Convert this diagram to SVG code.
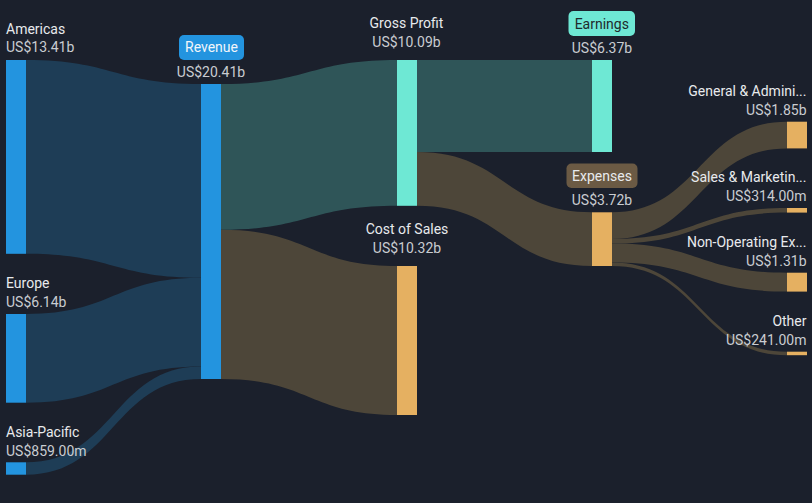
<svg xmlns="http://www.w3.org/2000/svg" width="812" height="503" viewBox="0 0 812 503">
<style>
.lbl{font-family:Roboto,"Liberation Sans",sans-serif;font-size:14px;fill:#e8eaed}
.val{font-family:Roboto,"Liberation Sans",sans-serif;font-size:14px;fill:#c9ccd1}
.mid{text-anchor:middle}
.end{text-anchor:end}
.fr{fill:#1e3d56}
.ft{fill:#2f5558}
.fb{fill:#4d4639}
.nb{fill:#2394df}
.nc{fill:#6ee8d4}
.no{fill:#e5b061}
</style>
<rect width="812" height="503" fill="#1b202c"/>
<g id="connectors">
<path class="fr" d="M26 60 C113.5 60 113.5 84 201 84 L201 277.8 C113.5 277.8 113.5 253.8 26 253.8 Z"/>
<path class="fr" d="M26 314 C113.5 314 113.5 277.8 201 277.8 L201 366.5 C113.5 366.5 113.5 402.7 26 402.7 Z"/>
<path class="fr" d="M26 462.3 C113.5 462.3 113.5 366.5 201 366.5 L201 379 C113.5 379 113.5 474.7 26 474.7 Z"/>
<path class="ft" d="M221 84 C309 84 309 60 397 60 L397 205.8 C309 205.8 309 229.8 221 229.8 Z"/>
<path class="fb" d="M221 229.8 C309 229.8 309 266 397 266 L397 415 C309 415 309 379 221 379 Z"/>
<path class="ft" d="M417 60 C504.5 60 504.5 60 592 60 L592 152 C504.5 152 504.5 152 417 152 Z"/>
<path class="fb" d="M417 152 C504.5 152 504.5 212.3 592 212.3 L592 266 C504.5 266 504.5 205.8 417 205.8 Z"/>
<path class="fb" d="M612 212.3 C699.5 212.3 699.5 121.7 787 121.7 L787 148.4 C699.5 148.4 699.5 239 612 239 Z"/>
<path class="fb" d="M612 239 C699.5 239 699.5 208 787 208 L787 212.6 C699.5 212.6 699.5 243.6 612 243.6 Z"/>
<path class="fb" d="M612 243.6 C699.5 243.6 699.5 272.7 787 272.7 L787 291.6 C699.5 291.6 699.5 262.5 612 262.5 Z"/>
<path class="fb" d="M612 262.5 C699.5 262.5 699.5 351.7 787 351.7 L787 355.2 C699.5 355.2 699.5 266 612 266 Z"/>
</g>
<g id="americas">
<rect class="nb" x="6" y="60" width="20" height="193.8"/>
<text class="lbl" x="6" y="34">Americas</text>
<text class="val" x="6" y="52">US$13.41b</text>
</g>
<g id="europe">
<rect class="nb" x="6" y="314" width="20" height="88.7"/>
<text class="lbl" x="6" y="288">Europe</text>
<text class="val" x="6" y="306.5">US$6.14b</text>
</g>
<g id="asia-pacific">
<rect class="nb" x="6" y="462.3" width="20" height="12.4"/>
<text class="lbl" x="6" y="437">Asia-Pacific</text>
<text class="val" x="6" y="455.5">US$859.00m</text>
</g>
<g id="revenue">
<rect class="nb" x="201" y="84" width="20" height="295"/>
<rect x="179" y="35" width="65" height="25" rx="5" fill="#2394df"/>
<text class="lbl mid" x="211.5" y="52" style="fill:#f2f6fa">Revenue</text>
<text class="val mid" x="211" y="76.5">US$20.41b</text>
</g>
<g id="gross-profit">
<rect class="nc" x="397" y="60" width="20" height="145.8"/>
<text class="lbl mid" x="406.5" y="28">Gross Profit</text>
<text class="val mid" x="406.5" y="47">US$10.09b</text>
</g>
<g id="cost-of-sales">
<rect class="no" x="397" y="266" width="20" height="149"/>
<text class="lbl mid" x="407" y="233.5">Cost of Sales</text>
<text class="val mid" x="407" y="252.5">US$10.32b</text>
</g>
<g id="earnings">
<rect class="nc" x="592" y="60" width="20" height="92"/>
<rect x="568.5" y="11" width="66.5" height="25" rx="5" fill="#6ee8d4"/>
<text class="lbl mid" x="601.8" y="28.5" style="fill:#1e2a2c">Earnings</text>
<text class="val mid" x="602" y="52.5">US$6.37b</text>
</g>
<g id="expenses">
<rect class="no" x="592" y="212.3" width="20" height="53.7"/>
<rect x="566.5" y="163.5" width="71" height="24.5" rx="5" fill="#6b5a44"/>
<text class="lbl mid" x="602" y="180.5">Expenses</text>
<text class="val mid" x="602" y="204.5">US$3.72b</text>
</g>
<g id="general-admin">
<rect class="no" x="787" y="121.7" width="20" height="26.7"/>
<text class="lbl end" x="806.5" y="96">General &amp; Admini...</text>
<text class="val end" x="806.5" y="114.5">US$1.85b</text>
</g>
<g id="sales-marketing">
<rect class="no" x="787" y="208" width="20" height="4.6"/>
<text class="lbl end" x="806.5" y="182">Sales &amp; Marketin...</text>
<text class="val end" x="806.5" y="200.5">US$314.00m</text>
</g>
<g id="non-operating">
<rect class="no" x="787" y="272.7" width="20" height="18.9"/>
<text class="lbl end" x="806.5" y="247">Non-Operating Ex...</text>
<text class="val end" x="806.5" y="265.5">US$1.31b</text>
</g>
<g id="other">
<rect class="no" x="787" y="351.7" width="20" height="3.5"/>
<text class="lbl end" x="806.5" y="325.5">Other</text>
<text class="val end" x="806.5" y="344.5">US$241.00m</text>
</g>
</svg>
